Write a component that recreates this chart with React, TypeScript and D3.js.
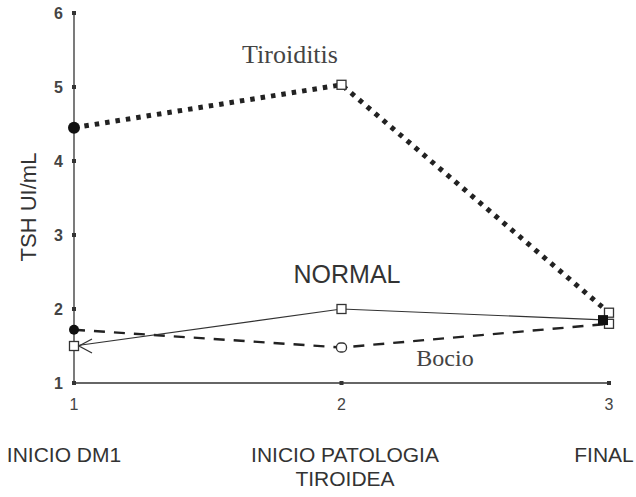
import React from "react";
import * as d3 from "d3";

const xTicks = [1, 2, 3];
const yTicks = [1, 2, 3, 4, 5, 6];
const categories = ["INICIO DM1", "INICIO PATOLOGIA|TIROIDEA", "FINAL"];
const tiroiditis = [4.45, 5.03, 1.95];
const normal = [1.5, 2.0, 1.85];
const bocio = [1.72, 1.48, 1.8];

export default function App() {
  const W = 636, H = 497;
  const x = d3.scaleLinear().domain([1, 3]).range([74, 609]);
  const y = d3.scaleLinear().domain([1, 6]).range([383, 13]);
  const line = d3.line<number>().x((_, i) => x(xTicks[i])).y((d) => y(d));
  const col = "#333";
  const sq = (cx: number, cy: number, k: string, fill = "#fff") => (
    <rect key={k} x={cx - 4.5} y={cy - 4.5} width={9} height={9} fill={fill} stroke={col} strokeWidth={1.3} />
  );
  return (
    <svg width={W} height={H} style={{ position: "absolute", left: 0, top: 0, background: "#fff" }}>
      {/* axes */}
      <line x1={x(1)} x2={x(1)} y1={y(6)} y2={y(1)} stroke={col} strokeWidth={1.3} />
      <line x1={x(1)} x2={x(3)} y1={y(1)} y2={y(1)} stroke={col} strokeWidth={1.3} />
      {yTicks.map((t) => (
        <g key={"y" + t}>
          <rect x={x(1) - 2} y={y(t) - 2} width={4} height={4} fill={col} />
          <text x={x(1) - 11} y={y(t) + 6} textAnchor="end" fontFamily="Liberation Sans" fontSize={16} fontWeight="bold" fill="#444">{t}</text>
        </g>
      ))}
      {xTicks.map((t) => (
        <g key={"x" + t}>
          <rect x={x(t) - 2} y={y(1) - 2} width={4} height={4} fill={col} />
          <text x={x(t)} y={y(1) + 27} textAnchor="middle" fontFamily="Liberation Sans" fontSize={16} fill="#444">{t}</text>
        </g>
      ))}
      <text transform={`translate(36,${207}) rotate(-90)`} textAnchor="middle" fontFamily="Liberation Sans" fontSize={22} fill="#333">TSH UI/mL</text>
      {categories.map((c, i) => {
        const cx = [64, 345, 604][i];
        return c.split("|").map((s, j) => (
          <text key={c + j} x={cx} y={462 + j * 24} textAnchor="middle" fontFamily="Liberation Sans" fontSize={21} fill="#333">{s}</text>
        ));
      })}
      {/* series */}
      <path d={line(tiroiditis) || ""} fill="none" stroke="#222" strokeWidth={5} strokeDasharray="4.5 6" />
      <path d={line(bocio) || ""} fill="none" stroke="#222" strokeWidth={2.4} strokeDasharray="11 9" />
      <path d={line(normal) || ""} fill="none" stroke="#333" strokeWidth={1.2} />
      {/* markers */}
      <circle cx={x(1)} cy={y(tiroiditis[0])} r={6} fill="#111" />
      {sq(x(2), y(tiroiditis[1]), "t2")}
      {sq(x(3), y(tiroiditis[2]), "t3")}
      <circle cx={x(1)} cy={y(bocio[0])} r={5} fill="#111" />
      <rect x={x(2) - 5} y={y(bocio[1]) - 4.5} width={10} height={9} rx={4} fill="#fff" stroke={col} strokeWidth={1.3} />
      {sq(x(3), y(bocio[2]), "b3")}
      {sq(x(1), y(normal[0]), "n1")}
      <path d={`M${x(1) + 18},${y(normal[0]) - 7} L${x(1) + 5},${y(normal[0])} L${x(1) + 18},${y(normal[0]) + 7}`} fill="none" stroke={col} strokeWidth={1.3} />
      {sq(x(2), y(normal[1]), "n2")}
      <rect x={x(3) - 11} y={y(normal[2]) - 5} width={10} height={10} fill="#111" />
      {/* series labels */}
      <text x={290} y={63} textAnchor="middle" fontFamily="Liberation Serif" fontSize={26} fill="#444">Tiroiditis</text>
      <text x={347} y={283} textAnchor="middle" fontFamily="Liberation Sans" fontSize={25} fill="#333">NORMAL</text>
      <text x={445} y={366} textAnchor="middle" fontFamily="Liberation Serif" fontSize={24} fill="#444">Bocio</text>
    </svg>
  );
}
